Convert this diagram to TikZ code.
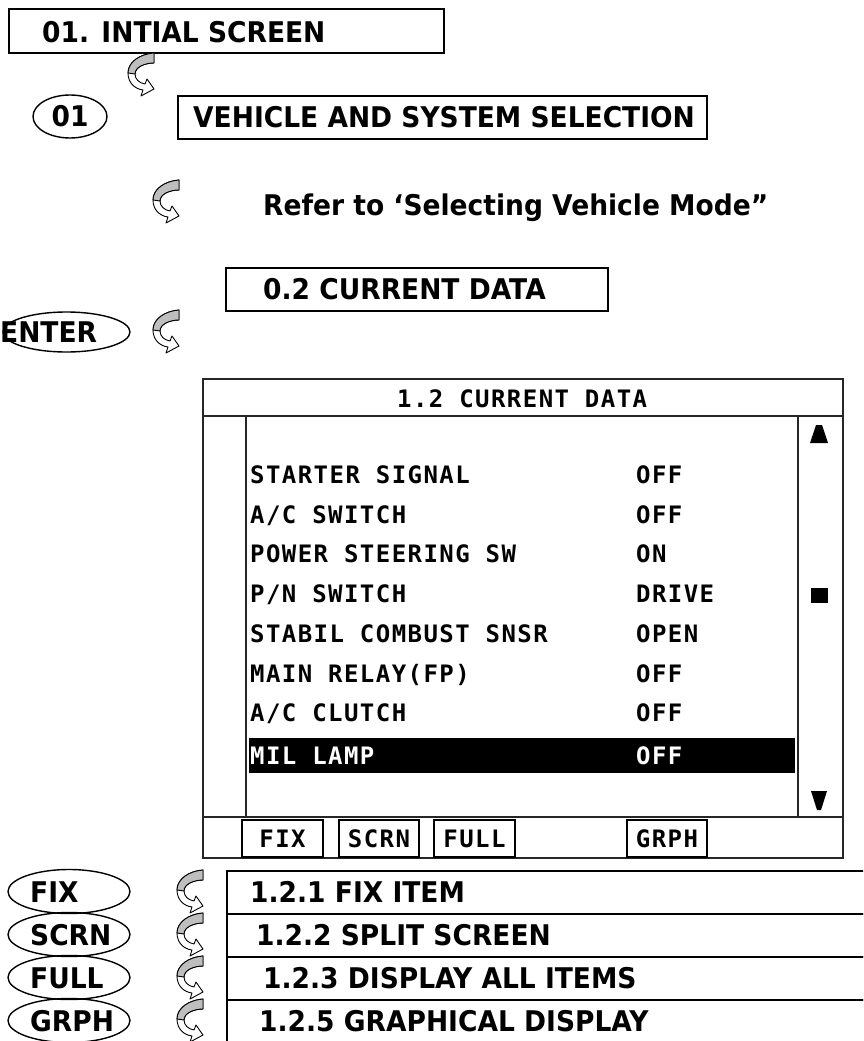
\documentclass[tikz,border=0pt]{standalone}
\usepackage{fontspec}
\setmainfont{DejaVu Sans}[FakeStretch=0.93]
\newfontfamily\telafamilia{DejaVu Sans Mono}[LetterSpace=6]
\usetikzlibrary{shapes.geometric}
\definecolor{cinzaSeta}{RGB}{190,190,190}
\newcommand{\fontecab}{\fontsize{28.5}{32}\selectfont\bfseries}
\newcommand{\fontetela}{\telafamilia\fontsize{24}{27}\selectfont\bfseries}
\tikzset{
  caixa/.style={rectangle, draw, line width=1.6pt, inner sep=0pt},
  tecla/.style={ellipse, draw, line width=1.4pt, inner sep=0pt, font=\fontecab},
  rotulo/.style={anchor=base west, inner sep=0pt, font=\fontecab},
  dado/.style={anchor=base west, inner sep=0pt, font=\fontetela},
  botao/.style={rectangle, draw, line width=1.4pt, inner sep=0pt,
                font=\fontetela, minimum height=37pt},
  linhatela/.style={line width=1.6pt, black!85},
  curva/.pic={
    \filldraw[fill=white, line width=0.9pt, line join=round]
      (26,0) .. controls (12,1) and (0,9) .. (0,20)
      .. controls (0,30) and (7,36) .. (15,37)
      -- (13,43) -- (26,36) -- (19,26) -- (17,31)
      .. controls (11,30) and (7,26) .. (7,21)
      .. controls (7,14) and (17,10) .. (26,10) -- cycle;
    \filldraw[fill=cinzaSeta, line width=0.9pt, line join=round]
      (26,0) .. controls (12,1) and (0,9) .. (0,20)
      -- (7,21) .. controls (7,14) and (17,10) .. (26,10) -- cycle;
  },
}

\begin{document}
\begin{tikzpicture}[x=1pt, y=-1pt]
  \useasboundingbox (0,0) rectangle (863,1041);
  \clip (0,0) rectangle (863,1041);

  % tela inicial
  \node[caixa, anchor=north west, minimum width=435pt, minimum height=44pt] (inicial) at (8,8) {};
  \node[rotulo] (tinicial) at (42,43) {01. INTIAL SCREEN};
  \pic at (128,53) {curva};

  \node[tecla, minimum width=74pt, minimum height=43pt] (t01) at (70,116.5) {01};
  \node[caixa, anchor=north west, minimum width=529pt, minimum height=43pt] (veiculo) at (177,95) {};
  \node[rotulo] (tveiculo) at (193,127.5) {VEHICLE AND SYSTEM SELECTION};

  \pic at (153,180) {curva};
  \node[rotulo] (refer) at (263,215) {Refer to ‘Selecting Vehicle Mode”};

  \node[caixa, anchor=north west, minimum width=382pt, minimum height=43pt] (dados) at (225,267) {};
  \node[rotulo] (tdados) at (263,299) {0.2 CURRENT DATA};

  \node[tecla, minimum width=127pt, minimum height=40pt] (enter) at (66.5,332) {};
  \node[rotulo] (tenter) at (0,342.5) {ENTER};
  \pic at (153,310) {curva};

  % tela 1.2 current data
  \node[draw, linhatela, anchor=north west, minimum width=640pt, minimum height=479pt,
        inner sep=0pt] (tela) at (202,378) {};
  \draw[linhatela] (202,416) -- (842,416);
  \draw[linhatela] (202,817) -- (842,817);
  \draw[linhatela] (246,416) -- (246,817);
  \draw[linhatela] (798,416) -- (798,817);
  \node[dado] (ttela) at (397,407) {1.2 CURRENT DATA};

  \foreach \rot/\val [count=\i from 0] in {STARTER SIGNAL/OFF, {A/C SWITCH}/OFF,
      POWER STEERING SW/ON, {P/N SWITCH}/DRIVE, STABIL COMBUST SNSR/OPEN,
      MAIN RELAY(FP)/OFF, {A/C CLUTCH}/OFF} {
    \node[dado] (item\i) at (250,{483.5+39.7*\i}) {\rot};
    \node[dado] (valor\i) at (636,{483.5+39.7*\i}) {\val};
  }
  \fill (249,738) rectangle (795,773);
  \node[dado, text=white] (item7) at (250,764) {MIL LAMP};
  \node[dado, text=white] (valor7) at (636,764) {OFF};

  % barra de rolagem
  \fill (810,443) -- (828,443) -- (822,425) -- (816,425) -- cycle;
  \fill (811,588) rectangle (828,603);
  \fill (811,791) -- (827,791) -- (821,810) -- (817,810) -- cycle;

  % teclas da tela
  \node[botao, minimum width=81pt] (bfix) at (282.5,838.5) {FIX};
  \node[botao, minimum width=80pt] (bscrn) at (379,838.5) {SCRN};
  \node[botao, minimum width=81pt] (bfull) at (474.5,838.5) {FULL};
  \node[botao, minimum width=80pt] (bgrph) at (667,838.5) {GRPH};

  % opcoes
  \foreach \tec/\txt/\dx [count=\i from 0] in {FIX/1.2.1 FIX ITEM/250,
      SCRN/1.2.2 SPLIT SCREEN/256, FULL/1.2.3 DISPLAY ALL ITEMS/263,
      GRPH/1.2.5 GRAPHICAL DISPLAY/259} {
    \node[tecla, minimum width=122pt, minimum height=44pt] (tec\i) at (69,{891.5+43*\i}) {};
    \node[rotulo] (ttec\i) at (30,{902+43*\i}) {\tec};
    \pic at (177,{870+43*\i}) {curva};
    \node[caixa, anchor=north west, minimum width=664pt, minimum height=43pt]
      (opcao\i) at (226,{870+43*\i}) {};
    \node[rotulo] (topcao\i) at (\dx,{902+43*\i}) {\txt};
  }
\end{tikzpicture}
\end{document}
